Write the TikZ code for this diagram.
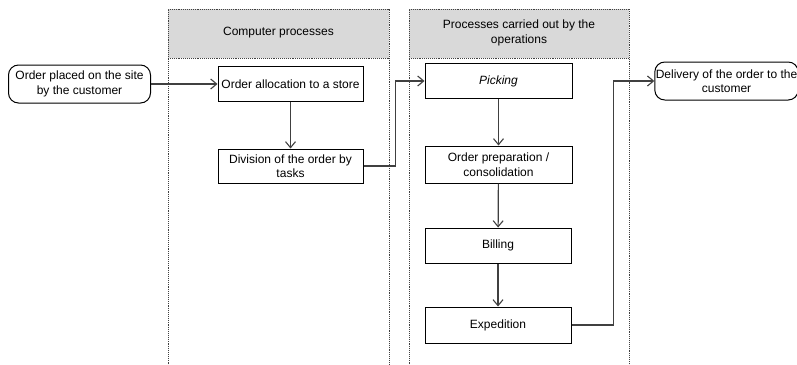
\documentclass[tikz,border=0pt]{standalone}
\usepackage{fontspec}
\setmainfont{Liberation Sans}
\usetikzlibrary{arrows.meta}
\definecolor{laneline}{HTML}{404040}
\definecolor{headfill}{HTML}{D9D9D9}
\definecolor{flowline}{HTML}{404040}
\begin{document}
\begin{tikzpicture}[x=1pt,y=-1pt,
  txt/.style={font=\fontsize{12}{14.5}\selectfont, align=center, inner sep=1pt},
  proc/.style={txt, draw=black, line width=1pt, fill=white, minimum width=146pt, minimum height=35pt},
  term/.style={proc, rounded corners=10pt, minimum width=142pt, minimum height=38pt},
  lane/.style={draw=laneline, densely dotted, line width=0.9pt},
  flow/.style={draw=flowline, line width=1.2pt, -{Straight Barb[length=6pt,width=10pt,line width=1.1pt]}}]
\useasboundingbox (0,0) rectangle (797,364);

% swimlanes
\fill[headfill] (168,9) rectangle (389,58);
\fill[headfill] (409,9) rectangle (629,58);
\draw[lane] (168,370) -- (168,9) -- (389,9) -- (389,370);
\draw[lane] (168,58) -- (389,58);
\draw[lane] (409,370) -- (409,9) -- (629,9) -- (629,370);
\draw[lane] (409,58) -- (629,58);
\node[txt] (lane1) at (278.5,33) {Computer processes};
\node[txt] (lane2) at (519,33) {Processes carried out by the\\operations};

% steps
\node[term] (start) at (79.5,84) {Order placed on the site\\by the customer};
\node[proc, minimum width=145pt] (alloc) at (290.5,84) {Order allocation to a store};
\node[proc, minimum width=145pt, minimum height=34pt] (div) at (290.5,166) {Division of the order by\\tasks};
\node[proc, minimum width=147pt] (pick) at (498.5,81) {\itshape Picking};
\node[proc, minimum width=147pt, minimum height=37pt] (prep) at (498.5,164.5) {Order preparation /\\consolidation};
\node[proc] (bill) at (498,245.5) {Billing};
\node[proc, minimum height=36pt] (exp) at (498,325) {Expedition};
\node[term, minimum width=139pt] (deliv) at (726.5,81) {Delivery of the order to the\\customer};

% flow
\draw[flow] (start) -- (alloc);
\draw[flow] (alloc) -- (div);
\draw[flow] (div.east) -- ++(32,0) |- (pick.west);
\draw[flow] (pick) -- (prep);
\draw[flow] (prep) -- (bill);
\draw[flow] (bill) -- (exp);
\draw[flow] (exp.east) -- ++(42,0) |- (deliv.west);
\end{tikzpicture}
\end{document}
